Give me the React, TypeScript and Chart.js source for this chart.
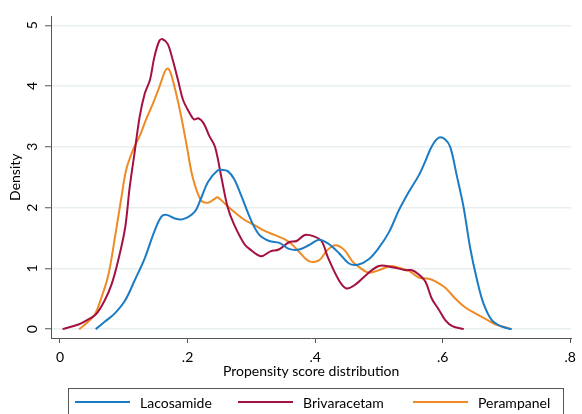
import React, { useEffect, useRef } from 'react';
import { Chart, registerables } from 'chart.js';

Chart.register(...registerables);

const seriesNames = ['Lacosamide', 'Brivaracetam', 'Perampanel'];
const seriesColors = ['#1b7bc4', '#a5113f', '#ef8a25'];

const lacX = [0.056, 0.070, 0.086, 0.102, 0.117, 0.133, 0.148, 0.159, 0.167, 0.180, 0.193, 0.211, 0.221, 0.232, 0.247, 0.255, 0.263, 0.273, 0.284, 0.300, 0.3125, 0.328, 0.344, 0.359, 0.375, 0.390, 0.406, 0.420, 0.4375, 0.453, 0.467, 0.484, 0.500, 0.516, 0.531, 0.547, 0.5625, 0.573, 0.583, 0.594, 0.604, 0.612, 0.622, 0.633, 0.643, 0.654, 0.664, 0.677, 0.693, 0.708];
const lacY = [0.00, 0.12, 0.26, 0.47, 0.80, 1.17, 1.61, 1.85, 1.88, 1.82, 1.81, 1.93, 2.15, 2.42, 2.61, 2.62, 2.60, 2.47, 2.20, 1.78, 1.55, 1.45, 1.42, 1.32, 1.31, 1.38, 1.47, 1.41, 1.25, 1.08, 1.06, 1.15, 1.34, 1.60, 1.95, 2.26, 2.53, 2.77, 3.01, 3.15, 3.12, 2.99, 2.53, 1.99, 1.34, 0.80, 0.42, 0.15, 0.04, 0.00];

const briX = [0.004, 0.030, 0.046, 0.057, 0.070, 0.081, 0.091, 0.102, 0.109, 0.117, 0.125, 0.133, 0.141, 0.148, 0.156, 0.161, 0.169, 0.177, 0.185, 0.193, 0.203, 0.210, 0.217, 0.225, 0.234, 0.243, 0.253, 0.263, 0.273, 0.289, 0.297, 0.315, 0.330, 0.343, 0.359, 0.371, 0.384, 0.397, 0.410, 0.420, 0.4375, 0.449, 0.464, 0.481, 0.500, 0.521, 0.542, 0.552, 0.5625, 0.573, 0.583, 0.594, 0.604, 0.615, 0.633];
const briY = [0.00, 0.08, 0.17, 0.25, 0.47, 0.74, 1.12, 1.66, 2.31, 2.91, 3.50, 3.88, 4.10, 4.48, 4.75, 4.77, 4.69, 4.42, 4.10, 3.77, 3.56, 3.45, 3.47, 3.39, 3.18, 3.00, 2.50, 2.00, 1.72, 1.40, 1.32, 1.20, 1.28, 1.31, 1.43, 1.45, 1.55, 1.53, 1.45, 1.18, 0.80, 0.67, 0.74, 0.90, 1.04, 1.02, 0.97, 0.97, 0.90, 0.78, 0.50, 0.32, 0.15, 0.05, 0.00];

const perX = [0.030, 0.044, 0.055, 0.065, 0.076, 0.086, 0.096, 0.104, 0.115, 0.125, 0.135, 0.146, 0.156, 0.164, 0.169, 0.174, 0.182, 0.190, 0.199, 0.208, 0.221, 0.232, 0.242, 0.247, 0.258, 0.273, 0.289, 0.305, 0.320, 0.336, 0.352, 0.363, 0.375, 0.390, 0.406, 0.419, 0.432, 0.446, 0.458, 0.469, 0.484, 0.500, 0.518, 0.531, 0.547, 0.5625, 0.578, 0.586, 0.604, 0.620, 0.635, 0.651, 0.667, 0.682, 0.708];
const perY = [0.00, 0.12, 0.25, 0.52, 0.90, 1.50, 2.15, 2.63, 2.96, 3.18, 3.45, 3.72, 3.99, 4.23, 4.29, 4.20, 3.88, 3.50, 3.00, 2.50, 2.12, 2.08, 2.14, 2.17, 2.07, 1.93, 1.80, 1.71, 1.62, 1.55, 1.48, 1.40, 1.27, 1.12, 1.13, 1.30, 1.38, 1.30, 1.12, 1.02, 0.93, 0.97, 1.04, 1.01, 0.96, 0.85, 0.83, 0.80, 0.68, 0.50, 0.36, 0.26, 0.17, 0.08, 0.00];

const xTicks = [0, 0.2, 0.4, 0.6, 0.8];
const xTickLabels = ['0', '.2', '.4', '.6', '.8'];
const yTicks = [0, 1, 2, 3, 4, 5];
const yTickLabels = ['0', '1', '2', '3', '4', '5'];

const FONT = "Lato, 'Liberation Sans', Arial, sans-serif";
const FSIZE = 14;

const legendBoxPlugin = {
  id: 'stataLegend',
  afterDraw(chart: any) {
    const ctx = chart.ctx;
    ctx.save();
    ctx.strokeStyle = '#555555';
    ctx.lineWidth = 1;
    ctx.strokeRect(68.5, 388.5, 495, 40);
    const lineStarts = [75, 238, 413];
    const lineLen = 55;
    const ly = 402;
    chart.data.datasets.forEach((ds: any, i: number) => {
      ctx.strokeStyle = ds.borderColor;
      ctx.lineWidth = 2;
      ctx.beginPath();
      ctx.moveTo(lineStarts[i], ly);
      ctx.lineTo(lineStarts[i] + lineLen, ly);
      ctx.stroke();
      ctx.fillStyle = '#000000';
      ctx.font = `${FSIZE}px ${FONT}`;
      ctx.textBaseline = 'middle';
      ctx.textAlign = 'left';
      ctx.fillText(ds.label, lineStarts[i] + lineLen + 10, ly + 1);
    });
    ctx.restore();
  },
};

export default function App() {
  const ref = useRef<HTMLCanvasElement | null>(null);
  useEffect(() => {
    if (!ref.current) return;
    const mk = (xs: number[], ys: number[]) => xs.map((x, i) => ({ x, y: ys[i] }));
    const series = [mk(lacX, lacY), mk(briX, briY), mk(perX, perY)];
    const chart = new Chart(ref.current, {
      type: 'line',
      data: {
        datasets: series.map((d, i) => ({
          label: seriesNames[i],
          data: d,
          borderColor: seriesColors[i],
          backgroundColor: seriesColors[i],
          borderWidth: 2,
          pointRadius: 0,
          fill: false,
          tension: 0.35,
          borderJoinStyle: 'round' as const,
        })),
      },
      options: {
        animation: false,
        responsive: false,
        layout: { padding: { left: 0, top: 12, right: 9, bottom: 26 } },
        plugins: { legend: { display: false }, tooltip: { enabled: false } },
        scales: {
          x: {
            type: 'linear',
            min: -0.0141,
            max: 0.8016,
            afterBuildTicks: (s: any) => {
              s.ticks = xTicks.map((v) => ({ value: v }));
            },
            afterFit: (s: any) => {
              s.height = 50;
            },
            ticks: {
              autoSkip: false,
              maxRotation: 0,
              padding: 6,
              color: '#000',
              font: { family: FONT, size: FSIZE },
              callback: (_v: any, i: number) => xTickLabels[i],
            },
            grid: { drawOnChartArea: false, tickLength: 5, tickColor: '#555555', tickWidth: 1 },
            border: { display: true, color: '#555555', width: 1 },
            title: {
              display: true,
              text: 'Propensity score distribution',
              color: '#000',
              font: { family: FONT, size: FSIZE },
              padding: { top: 0, bottom: 8 },
            },
          },
          y: {
            type: 'linear',
            min: -0.146,
            max: 5.146,
            afterBuildTicks: (s: any) => {
              s.ticks = yTicks.map((v) => ({ value: v }));
            },
            afterFit: (s: any) => {
              s.width = 51;
            },
            ticks: {
              autoSkip: false,
              minRotation: 90,
              maxRotation: 90,
              crossAlign: 'center',
              padding: 8,
              color: '#000',
              font: { family: FONT, size: FSIZE },
              callback: (_v: any, i: number) => yTickLabels[i],
            },
            grid: { color: '#e8eff1', lineWidth: 1.5, tickLength: 6, tickColor: '#555555', tickWidth: 1 },
            border: { display: true, color: '#555555', width: 1 },
            title: {
              display: true,
              text: 'Density',
              color: '#000',
              font: { family: FONT, size: FSIZE },
              padding: { top: 7, bottom: 0 },
            },
          },
        },
      },
      plugins: [legendBoxPlugin],
    } as any);
    return () => chart.destroy();
  }, []);
  return (
    <div style={{ position: 'fixed', left: 0, top: 0, width: 582, height: 414, background: '#fff' }}>
      <canvas ref={ref} width={582} height={414} style={{ display: 'block' }} />
    </div>
  );
}
